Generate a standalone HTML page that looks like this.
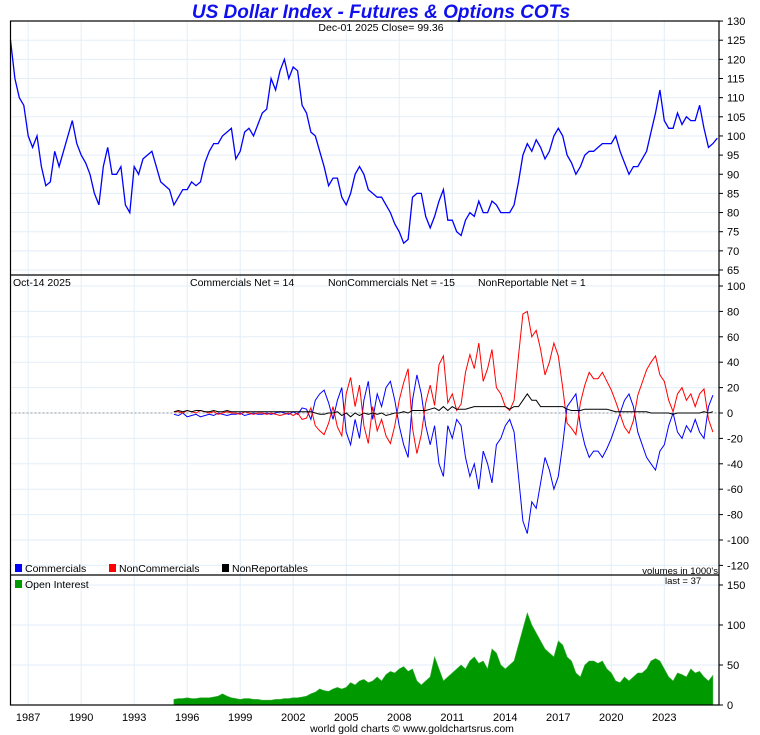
<!DOCTYPE html>
<html><head><meta charset="utf-8">
<style>
html,body{margin:0;padding:0;background:#fff;}
svg{display:block;font-family:"Liberation Sans",sans-serif;}
</style></head>
<body>
<svg id="chart" width="760" height="735" xmlns="http://www.w3.org/2000/svg">
<text x="381" y="18" text-anchor="middle" font-size="19" font-weight="bold" font-style="italic" fill="#1010ee">US Dollar Index - Futures &amp; Options COTs</text>
<g id="grid"></g>
<g id="series"></g>
<g id="frame"></g>
<text x="381" y="31" text-anchor="middle" font-size="10.5" fill="#000">Dec-01  2025   Close= 99.36</text>
<text x="13" y="286" font-size="10.5">Oct-14  2025</text>
<text x="190" y="286" font-size="10.5">Commercials Net = 14</text>
<text x="328" y="286" font-size="10.5">NonCommercials Net = -15</text>
<text x="478" y="286" font-size="10.5">NonReportable Net = 1</text>
<g font-size="10.5">
<rect x="15" y="564" width="7" height="8" fill="#0000ff"/><text x="25" y="572">Commercials</text>
<rect x="109" y="564" width="7" height="8" fill="#ff0000"/><text x="119" y="572">NonCommercials</text>
<rect x="222" y="564" width="7" height="8" fill="#000"/><text x="232" y="572">NonReportables</text>
</g>
<text x="718" y="574" text-anchor="end" font-size="9.5">volumes in 1000's</text>
<rect x="15" y="580" width="7" height="8" fill="#009900"/>
<text x="25" y="588" font-size="10.5">Open Interest</text>
<text x="665" y="584" font-size="9.5">last = 37</text>
<text x="412" y="732" text-anchor="middle" font-size="10.5">world gold charts © www.goldchartsrus.com</text>
</svg>
<script>
// ---- data ----
const priceStart = 1986.0;
const priceStep = 0.25;
const priceValues = [125,115,110,108,100,97,100,92,87,88,96,92,96,100,104,98,95,93,90,85,82,92,97,90,90,92,82,80,92,90,94,95,96,92,88,87,86,82,84,86,86,88,87,88,93,96,98,98,100,101,102,94,96,101,102,100,103,106,107,115,112,117,120,115,118,117,108,106,101,100,96,92,87,89,89,84,82,85,90,92,90,86,85,84,84,82,80,77,75,72,73,84,85,85,79,76,79,83,86,78,78,75,74,78,80,79,83,80,80,83,82,80,80,80,82,88,95,98,96,99,97,94,96,100,102,100,95,93,90,92,95,96,96,97,98,98,98,100,96,93,90,92,92,94,96,101,106,112,104,102,102,106,103,105,104,104,108,102,97,98,99.4];
const cotStart = 1995.25;
const cotStep = 0.25;
const commercials = [-1,-2,0,-3,-2,-1,-3,-2,-1,-2,0,-1,-2,-1,-1,0,-2,-1,0,-1,-1,0,-1,0,1,0,-1,1,-1,4,3,-5,10,15,18,8,-5,10,20,-15,-25,-5,-20,10,25,-5,15,5,20,25,10,-10,-25,-35,10,30,15,-10,-25,-10,-40,-50,-10,-20,-5,-10,-35,-50,-40,-60,-30,-40,-55,-25,-20,-10,-5,-15,-50,-85,-95,-70,-75,-55,-35,-45,-60,-50,-25,5,10,15,-10,-25,-35,-30,-30,-35,-28,-20,-10,0,10,15,5,-15,-25,-35,-40,-45,-30,-25,-10,0,-15,-20,-10,-15,-5,-15,-20,5,14];
const nonCommercials = [1,1,0,2,1,0,2,1,0,1,-1,0,1,0,0,-1,1,0,-1,0,0,-1,0,-1,-2,-1,0,-2,0,-5,-4,4,-10,-14,-17,-8,5,-11,-18,15,28,5,22,-10,-24,5,-14,-5,-18,-24,-10,10,24,35,-12,-32,-17,8,22,6,38,45,8,15,2,7,32,46,35,55,25,35,50,20,15,5,2,10,45,78,80,60,65,50,30,40,55,45,20,-8,-12,-17,8,22,32,27,27,32,25,18,9,-1,-11,-16,-6,14,24,34,40,45,30,25,10,1,15,20,10,15,5,15,19,-5,-15];
const nonReportables = [1,2,1,2,1,2,2,1,1,2,1,1,2,1,1,1,1,1,1,1,1,1,1,1,1,1,1,1,1,1,1,1,0,-1,-1,0,0,1,-2,0,-3,0,-2,0,-1,0,-1,0,-2,-1,0,0,1,0,2,2,2,2,3,4,2,5,2,5,3,3,3,4,5,5,5,5,5,5,5,5,3,5,5,10,15,10,10,5,5,5,5,5,5,3,2,2,2,3,3,3,3,3,3,2,1,1,1,1,1,1,1,1,0,0,0,0,0,-1,0,0,0,0,0,0,1,0,1];
const oiStart = 1995.25;
const oiStep = 0.25;
const openInterest = [7,8,8, 9,8,8,9, 9,9,10,11, 14,11,9,8, 7,8,8,7, 7,6,6,6, 7,7,8,8, 9,9,10,11, 14,16,20,18, 17,20,22,20, 22,28,25,30, 32,28,30,35, 30,38,42,40, 45,48,42,45, 30,25,30,35, 60,45,30,35, 40,45,50,45, 55,60,52,55, 45,70,65,50, 45,50,55,75, 95,115,100,90, 80,70,65,60, 80,75,60,55, 40,35,50,55, 55,52,55,45, 40,30,28,35, 30,35,40,40, 45,55,58,55, 45,35,30,40, 38,35,45,40, 42,35,30,37];
const yearTicks = [1987,1990,1993,1996,1999,2002,2005,2008,2011,2014,2017,2020,2023];
const priceTicks = [65,70,75,80,85,90,95,100,105,110,115,120,125,130];
const cotTicks = [-120,-100,-80,-60,-40,-20,0,20,40,60,80,100];
const oiTicks = [0,50,100,150];

// ---- axes ----
const L = 10.5, R = 719;
const X = yr => L + (yr - 1986) * 17.67;
const YP = v => 270 - (v - 65) * 3.83;
const YC = v => 413 - v * 1.27;
const YO = v => 705 - v * 0.8;
const NS = "http://www.w3.org/2000/svg";
function mk(tag, attrs, parent){const e=document.createElementNS(NS,tag);for(const k in attrs)e.setAttribute(k,attrs[k]);parent.appendChild(e);return e;}
const grid = document.getElementById('grid');
const series = document.getElementById('series');
const frame = document.getElementById('frame');
const gc = '#e3eef8';

yearTicks.forEach(y=>{
  const gl = mk('line',{x1:X(y),x2:X(y),y1:21,y2:705,stroke:gc,'stroke-width':1},grid);
  
  
  const t = mk('text',{x:X(y),y:721,'text-anchor':'middle','font-size':11},frame);
  t.textContent = y;
  
  
});
function hTicks(ticks, yf, labelName){
  ticks.forEach(v=>{
    const y = yf(v);
    const gl = mk('line',{x1:L,x2:R,y1:y,y2:y,stroke:gc,'stroke-width':1},grid);
    
    
    mk('line',{x1:R,x2:R+4,y1:y,y2:y,stroke:'#000'},frame);
    const t = mk('text',{x:R+8,y:y+4,'font-size':11},frame);
    t.textContent = v;
    
    
  });
}
hTicks(priceTicks, YP, 'price-tick-label');
hTicks(cotTicks, YC, 'cot-tick-label');
hTicks(oiTicks, YO, 'oi-tick-label');
const zl = mk('line',{x1:L,x2:R,y1:YC(0),y2:YC(0),stroke:'#999','stroke-dasharray':'2,2'},grid);



// ---- series ----
function linePath(vals, start, step, yf){
  return vals.map((v,i)=>(i?'L':'M')+X(start+i*step).toFixed(1)+','+yf(v).toFixed(1)).join('');
}
let d = 'M'+X(oiStart).toFixed(1)+','+YO(0);
openInterest.forEach((v,i)=>{d+='L'+X(oiStart+i*oiStep).toFixed(1)+','+YO(v).toFixed(1);});
d += 'L'+X(oiStart+(openInterest.length-1)*oiStep).toFixed(1)+','+YO(0)+'Z';
const oi = mk('path',{d:d,fill:'#009900',stroke:'#33aa33','stroke-width':0.6},series);



const pl = mk('path',{d:linePath(priceValues,priceStart,priceStep,YP),fill:'none',stroke:'#0000ff','stroke-width':1.3},series);



const cl = mk('path',{d:linePath(commercials,cotStart,cotStep,YC),fill:'none',stroke:'#0000ff','stroke-width':1},series);


const ncl = mk('path',{d:linePath(nonCommercials,cotStart,cotStep,YC),fill:'none',stroke:'#ff0000','stroke-width':1},series);


const nrl = mk('path',{d:linePath(nonReportables,cotStart,cotStep,YC),fill:'none',stroke:'#000','stroke-width':1},series);



// ---- frame ----
const fr = mk('rect',{x:L,y:21,width:R-L,height:684,fill:'none',stroke:'#000','stroke-width':1.2},frame);


[275,575].forEach(y=>{
  const s = mk('line',{x1:L,x2:R,y1:y,y2:y,stroke:'#000','stroke-width':1.2},frame);
  
  
});
</script>
</body></html>
